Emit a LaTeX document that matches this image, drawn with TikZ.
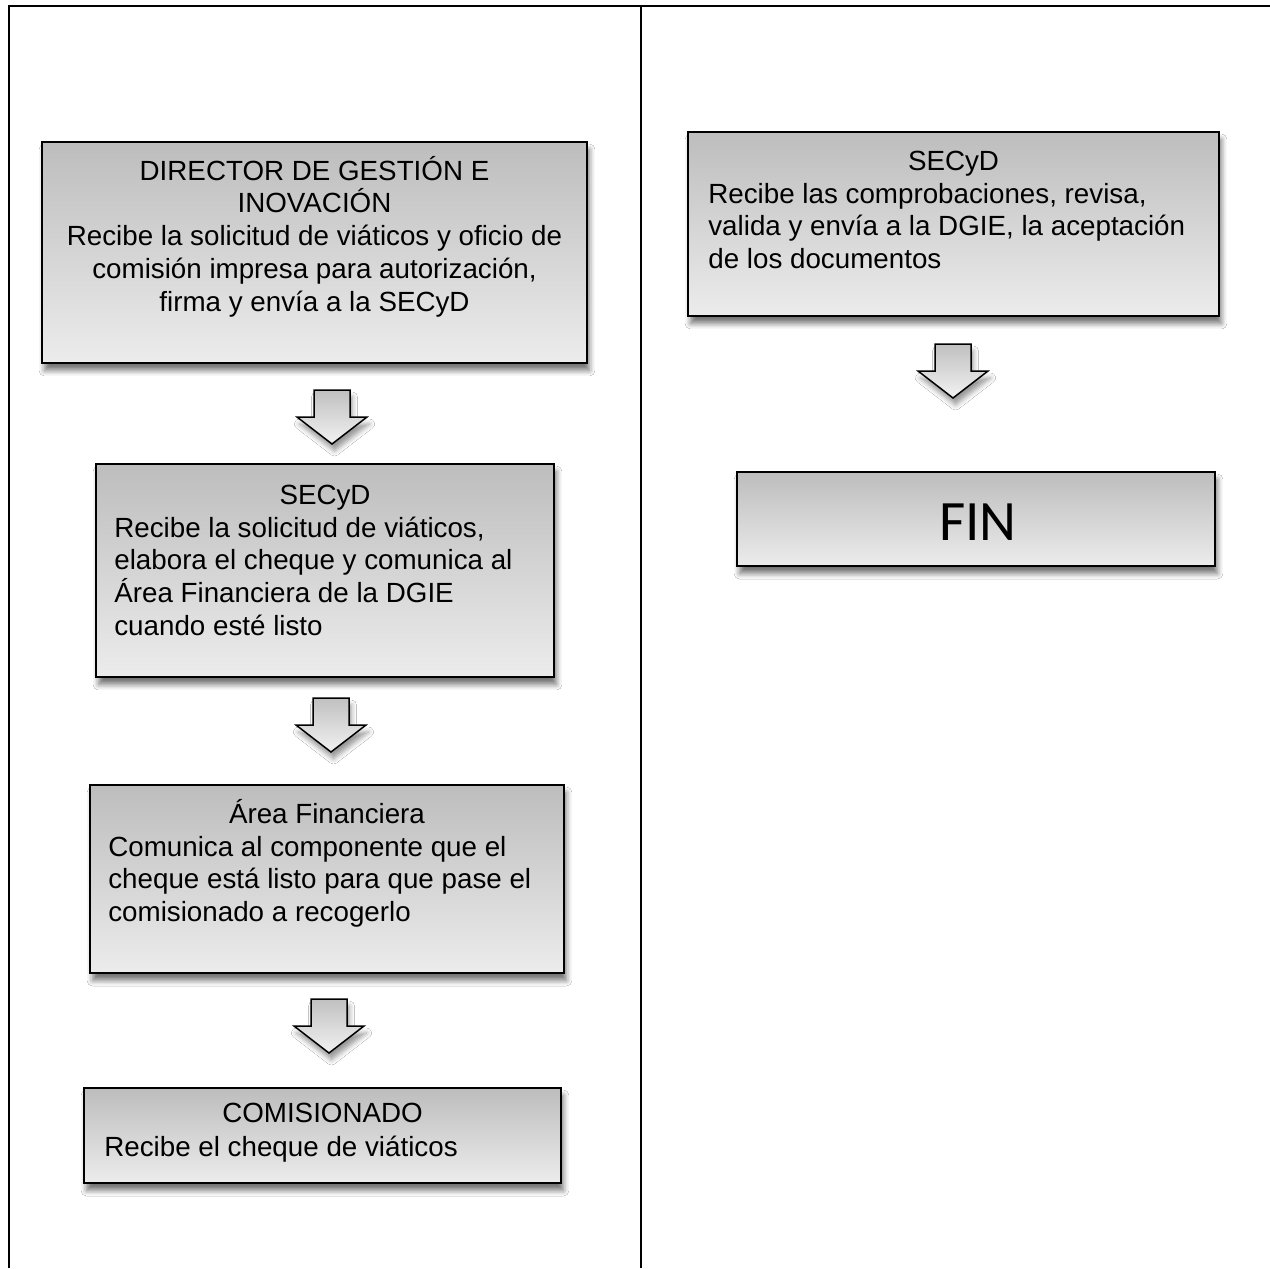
\documentclass[tikz,border=0pt]{standalone}
\usepackage{fontspec}
\setmainfont{Liberation Sans}
\newfontfamily\finfont{Carlito}
\usetikzlibrary{shadows.blur}
\definecolor{boxtop}{RGB}{189,189,189}
\definecolor{boxbot}{RGB}{236,236,236}
\definecolor{arrtop}{RGB}{192,192,192}
\definecolor{arrbot}{RGB}{242,242,242}
\begin{document}
\begin{tikzpicture}[x=0.02cm,y=-0.02cm,
  frame/.style={line width=0.05cm,black},
  box/.style={draw=black,line width=0.03cm,top color=boxtop,bottom color=boxbot,
    inner sep=0pt,
    blur shadow={shadow xshift=0.05cm,shadow yshift=-0.15cm,shadow blur radius=0.11cm,shadow opacity=55}},
  arrsty/.style={draw=black,line width=0.03cm,line join=miter,top color=arrtop,bottom color=arrbot,
    blur shadow={shadow xshift=0.05cm,shadow yshift=-0.14cm,shadow blur radius=0.1cm,shadow opacity=40}},
  txt/.style={inner sep=0pt,font=\fontsize{15.8pt}{18.7pt}\selectfont},
  downarrow/.pic={\path[arrsty] (-18,-54) -- (18,-54) -- (18,-27) -- (35,-27) -- (0,0) -- (-35,-27) -- (-18,-27) -- cycle;}
]
\useasboundingbox (0,0) rectangle (1270,1268);
\fill[white] (0,0) rectangle (1270,1268);
% frame
\coordinate (fbl) at (9,1268);
\coordinate (ftl) at (9,6);
\coordinate (ftr) at (1270,6);
\coordinate (fmt) at (641,6);
\coordinate (fmb) at (641,1268);
\draw[frame] (fbl) -- (ftl) -- (ftr);
\draw[frame] (fmt) -- (fmb);
% boxes
\node[box,minimum width=10.9cm,minimum height=4.42cm] (b1) at (314.5,252.5) {};
\node[box,minimum width=9.16cm,minimum height=4.26cm] (b2) at (325,570.5) {};
\node[box,minimum width=9.48cm,minimum height=3.76cm] (b3) at (327,879) {};
\node[box,minimum width=9.54cm,minimum height=1.9cm] (b4) at (322.5,1135.5) {};
\node[box,minimum width=10.62cm,minimum height=3.68cm] (b5) at (953.5,224) {};
\node[box,minimum width=9.56cm,minimum height=1.88cm] (b6) at (976,519) {};
% texts
\node[txt,anchor=base] (t1) at (314.5,180) {\parbox[t]{10.6cm}{\centering DIRECTOR DE GESTIÓN E\\ INOVACIÓN\\ Recibe la solicitud de viáticos y oficio de\\ comisión impresa para autorización,\\ firma y envía a la SECyD}};
\node[txt,anchor=base] (t2h) at (325,504) {SECyD};
\node[txt,anchor=base west] (t2) at (114,537) {\parbox[t]{9cm}{\raggedright Recibe la solicitud de viáticos,\\ elabora el cheque y comunica al\\ Área Financiera de la DGIE\\ cuando esté listo}};
\node[txt,anchor=base] (t3h) at (327,823) {Área Financiera};
\node[txt,anchor=base west] (t3) at (108,856) {\parbox[t]{9.2cm}{\raggedright Comunica al componente que el\\ cheque está listo para que pase el\\ comisionado a recogerlo}};
\node[txt,anchor=base] (t4h) at (322.5,1122) {COMISIONADO};
\node[txt,anchor=base west] (t4) at (104,1156) {\parbox[t]{9.2cm}{\raggedright Recibe el cheque de viáticos}};
\node[txt,anchor=base] (t5h) at (953.5,170) {SECyD};
\node[txt,anchor=base west] (t5) at (708,203) {\parbox[t]{10.3cm}{\raggedright Recibe las comprobaciones, revisa,\\ valida y envía a la DGIE, la aceptación\\ de los documentos}};
\node[inner sep=0pt,font=\finfont\fontsize{32.5pt}{36pt}\selectfont,anchor=base] (t6) at (978,540) {FIN};
% block arrows
\coordinate (a1) at (332,444);
\coordinate (a2) at (331,752);
\coordinate (a3) at (329,1053);
\coordinate (a4) at (953,398);
\pic at (a1) {downarrow};
\pic at (a2) {downarrow};
\pic at (a3) {downarrow};
\pic at (a4) {downarrow};
\end{tikzpicture}
\end{document}
